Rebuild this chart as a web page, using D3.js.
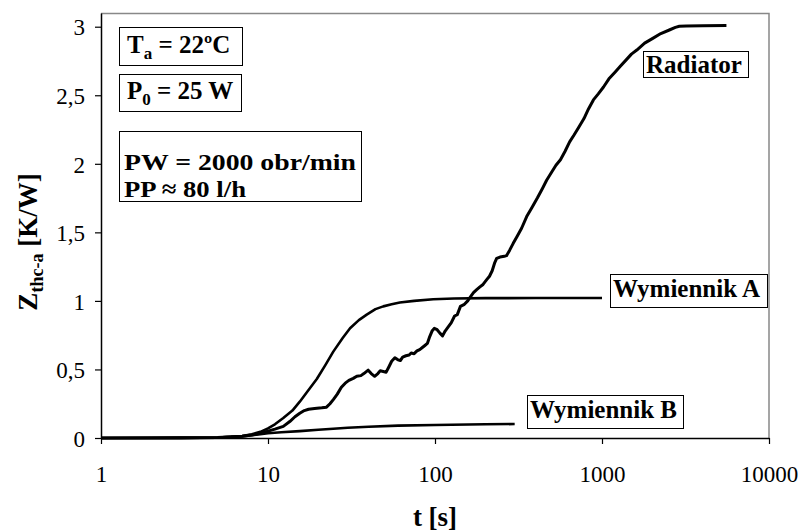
<!DOCTYPE html>
<html>
<head>
<meta charset="utf-8">
<script src="https://cdn.jsdelivr.net/npm/d3@7"></script>
<style>
  body { margin: 0; background: #fff; }
  svg text { font-family: "Liberation Serif", "Times New Roman", serif; }
  .tick text { font-size: 23px; fill: #000; }
  .lbl { font-size: 25px; font-weight: bold; fill: #000; }
</style>
</head>
<body>
<div id="chart"></div>
<script>
// Data: time [s] and Zthc-a [K/W]
var tA = [1, 2, 3, 4, 5, 6, 7, 8, 9, 10, 11, 12.35, 14, 15.5, 17, 19.6, 22, 24.6, 28, 31, 35, 39, 44, 49, 55, 61.6, 75, 97.6, 130, 200, 400, 1000];
var zA = [0, 0.0005, 0.001, 0.002, 0.004, 0.008, 0.015, 0.027, 0.045, 0.07, 0.1, 0.146, 0.2, 0.265, 0.33, 0.43, 0.53, 0.63, 0.73, 0.8, 0.86, 0.9, 0.94, 0.96, 0.975, 0.988, 1.0, 1.012, 1.018, 1.02, 1.021, 1.021];

var tB = [1, 3, 5, 7, 8, 9, 10, 12, 15.5, 20, 24.6, 30, 40, 60, 100, 200, 300];
var zB = [0, 0.0008, 0.003, 0.012, 0.02, 0.028, 0.035, 0.042, 0.05, 0.06, 0.068, 0.075, 0.082, 0.09, 0.095, 0.1, 0.102];

var tR = [1, 3, 5, 7, 8, 9, 10, 11, 12.35, 13.5, 14.5, 15.5, 16.5, 17.5, 19, 21, 22.4, 23.5, 24.6, 26, 27.5, 29, 30.5, 32.4, 34, 36, 37.5, 39.8, 41.5, 43.5, 45.5, 47, 49, 51, 53, 55, 57.5, 60, 62, 64, 67, 70, 72, 75, 78, 81, 84, 87, 90, 93, 96, 99, 103, 107, 111, 115, 120, 125, 131, 136, 142, 150, 157, 163, 170, 177, 185, 194, 204, 212, 220, 228, 234, 245, 260, 268, 280, 294, 310, 330, 354, 380, 410, 440, 466, 500, 530, 564, 600, 640, 680, 720, 780, 830, 888, 950, 1021, 1100, 1200, 1283, 1400, 1500, 1616, 1800, 2013, 2250, 2530, 2750, 2904, 3200, 4000, 5560];
var zR = [0, 0.001, 0.004, 0.013, 0.022, 0.035, 0.05, 0.065, 0.085, 0.12, 0.155, 0.18, 0.2, 0.21, 0.215, 0.22, 0.225, 0.25, 0.28, 0.32, 0.37, 0.4, 0.42, 0.435, 0.45, 0.455, 0.47, 0.495, 0.47, 0.45, 0.47, 0.49, 0.485, 0.48, 0.52, 0.56, 0.585, 0.57, 0.565, 0.59, 0.6, 0.605, 0.62, 0.615, 0.635, 0.645, 0.66, 0.675, 0.69, 0.74, 0.78, 0.8, 0.79, 0.765, 0.745, 0.78, 0.81, 0.84, 0.89, 0.9, 0.96, 0.975, 1.0, 1.03, 1.06, 1.08, 1.1, 1.12, 1.155, 1.18, 1.22, 1.28, 1.31, 1.32, 1.325, 1.33, 1.37, 1.42, 1.47, 1.53, 1.615, 1.68, 1.75, 1.82, 1.88, 1.94, 1.99, 2.03, 2.09, 2.16, 2.21, 2.26, 2.33, 2.4, 2.466, 2.51, 2.56, 2.62, 2.67, 2.71, 2.76, 2.8, 2.83, 2.88, 2.915, 2.95, 2.976, 2.995, 3.003, 3.006, 3.007, 3.008];

var xTicks = [1, 10, 100, 1000, 10000];
var yTicks = [0, 0.5, 1, 1.5, 2, 2.5, 3];

var svgWidth = 803;
var svgHeight = 531;

var margin = { top: 13, right: 34, bottom: 93, left: 101 };
var width = svgWidth - margin.left - margin.right;
var height = svgHeight - margin.top - margin.bottom;

var svg = d3.select("#chart")
  .append("svg")
  .attr("width", svgWidth)
  .attr("height", svgHeight);

var chartGroup = svg.append("g")
  .attr("transform", `translate(${margin.left}, ${margin.top})`);

// Scales
var xScale = d3.scaleLog()
  .domain([1, 10000])
  .range([0, width]);

var yScale = d3.scaleLinear()
  .domain([0, 3.1])
  .range([height, 0]);

// gray frame on top and right
chartGroup.append("path")
  .attr("d", `M0,0.5 H${width} V${height}`)
  .attr("fill", "none")
  .attr("stroke", "#888")
  .attr("stroke-width", 1.5);

// Axes
var fmt = d3.format(".1~f");
var bottomAxis = d3.axisBottom(xScale)
  .tickValues(xTicks)
  .tickFormat(d3.format("d"))
  .tickSizeInner(6)
  .tickSizeOuter(0)
  .tickPadding(22);

var leftAxis = d3.axisLeft(yScale)
  .tickValues(yTicks)
  .tickFormat(d => fmt(d).replace(".", ","))
  .tickSizeInner(6)
  .tickSizeOuter(0)
  .tickPadding(10);

var gx = chartGroup.append("g")
  .attr("transform", `translate(0, ${height})`)
  .call(bottomAxis);

var gy = chartGroup.append("g")
  .call(leftAxis);

[gx, gy].forEach(function(g) {
  g.attr("font-family", "Liberation Serif, serif").attr("font-size", 23);
  g.select(".domain").attr("stroke", "#000").attr("stroke-width", 1.5);
  g.selectAll(".tick line").attr("stroke", "#000").attr("stroke-width", 1.2);
});
gy.selectAll(".tick text").attr("dy", "0.36em");

// Curves
var line = d3.line()
  .x(d => xScale(d[0]))
  .y(d => yScale(d[1]));

var series = [
  { t: tB, z: zB, w: 2.6 },
  { t: tA, z: zA, w: 2.6 },
  { t: tR, z: zR, w: 3 }
];

series.forEach(function(s) {
  var pts = s.t.map((t, i) => [t, s.z[i]]);
  chartGroup.append("path")
    .datum(pts)
    .attr("d", line)
    .attr("fill", "none")
    .attr("stroke", "#000")
    .attr("stroke-width", s.w)
    .attr("stroke-linejoin", "round");
});

// Label boxes (page coordinates)
function box(x, y, w, h) {
  svg.append("rect")
    .attr("x", x + 0.5).attr("y", y + 0.5)
    .attr("width", w).attr("height", h)
    .attr("fill", "#fff")
    .attr("stroke", "#000")
    .attr("stroke-width", 1);
}

function label(x, y, main, sub, rest) {
  var t = svg.append("text").attr("class", "lbl").attr("x", x).attr("y", y);
  t.append("tspan").text(main);
  if (sub) {
    t.append("tspan").attr("dy", 6).style("font-size", "17px").text(sub);
    t.append("tspan").attr("dy", -6).text(rest);
  }
  return t;
}

box(119, 27, 123, 38);
label(127, 53, "T", "a", " = 22ºC");

box(119, 74, 122, 37);
label(127, 99, "P", "0", " = 25 W");

// two-line note, stretched a little like the original text box
box(119, 131, 242, 70);
label(124, 170, "PW = 2000 obr/min").style("font-size", "24px")
  .attr("textLength", 232).attr("lengthAdjust", "spacingAndGlyphs");
label(124, 197, "PP ≈ 80 l/h").style("font-size", "24px")
  .attr("textLength", 122).attr("lengthAdjust", "spacingAndGlyphs");

box(643, 51, 105, 26);
label(646, 73, "Radiator");

box(610, 274, 157, 33);
label(613, 297, "Wymiennik A");

box(527, 395, 156, 33);
label(530, 418, "Wymiennik B");

// Axis titles
svg.append("text")
  .attr("class", "lbl")
  .style("font-size", "27px")
  .attr("x", margin.left + width / 2)
  .attr("y", 526)
  .attr("text-anchor", "middle")
  .text("t [s]");

var yt = svg.append("text")
  .attr("class", "lbl")
  .style("font-size", "27px")
  .attr("transform", "translate(37, 242) rotate(-90)")
  .attr("text-anchor", "middle");
yt.append("tspan").text("Z");
yt.append("tspan").attr("dy", 6).style("font-size", "18px").text("thc-a");
yt.append("tspan").attr("dy", -6).text(" [K/W]");
</script>
</body>
</html>
